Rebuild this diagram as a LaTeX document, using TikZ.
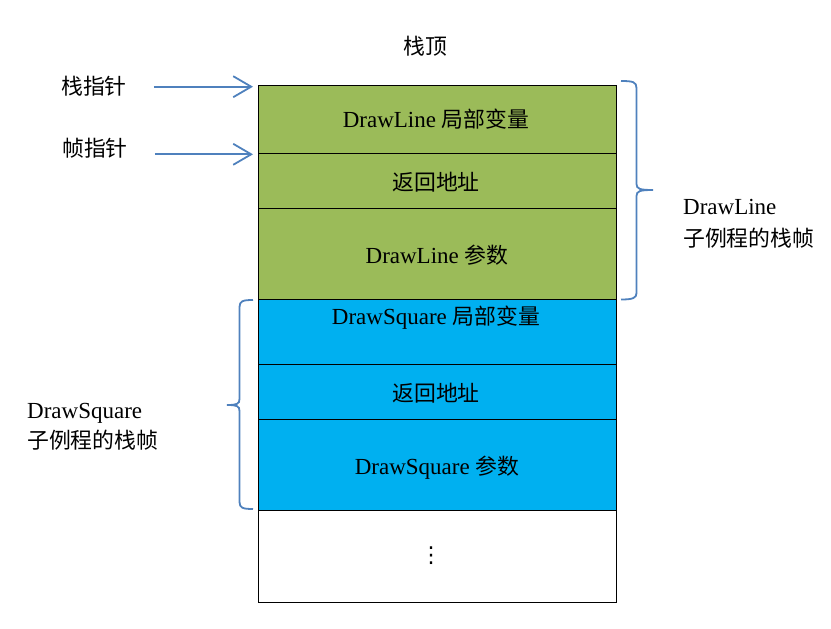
\documentclass[tikz,border=0pt]{standalone}
\usepackage{fontspec}
\setmainfont{Liberation Serif}
\newfontfamily\cjk[Scale=0.95]{Noto Sans CJK SC}
\newfontfamily\symfont{DejaVu Sans}
\usetikzlibrary{arrows.meta}
\definecolor{linegreen}{HTML}{9BBB59}
\definecolor{squareblue}{HTML}{00B0F0}
\definecolor{pointerblue}{HTML}{4F81BD}
\begin{document}
\begin{tikzpicture}[x=1pt,y=-1pt,
  txt/.style={font=\fontsize{23}{27}\selectfont,inner sep=0pt},
  ptr/.style={draw=pointerblue,line width=1.8pt,-{Straight Barb[length=18pt,width=21pt,line width=1.8pt]}},
  brc/.style={draw=pointerblue,line width=1.8pt}]
\useasboundingbox (0,0) rectangle (831,629) ;
% stack frames
\filldraw [fill=linegreen,draw=black,line width=1pt] (258,85) rectangle (616,299) ;
\filldraw [fill=squareblue,draw=black,line width=1pt] (258,299) rectangle (616,510) ;
\draw [line width=1pt] (258,510) rectangle (616,602) ;
\draw [line width=1pt] (258,153) -- (616,153) (258,208) -- (616,208) ;
\draw [line width=1pt] (258,364) -- (616,364) (258,419) -- (616,419) ;
% texts in the stack
\node [txt,anchor=base] (top) at (425,54) {\cjk 栈顶} ;
\node [txt,anchor=base] (dlvar) at (436,127) {DrawLine {\cjk 局部变量}} ;
\node [txt,anchor=base] (dlret) at (436,190) {\cjk 返回地址} ;
\node [txt,anchor=base] (dlarg) at (437,263) {DrawLine {\cjk 参数}} ;
\node [txt,anchor=base] (dsvar) at (436,324) {DrawSquare {\cjk 局部变量}} ;
\node [txt,anchor=base] (dsret) at (436,401) {\cjk 返回地址} ;
\node [txt,anchor=base] (dsarg) at (437,474) {DrawSquare {\cjk 参数}} ;
\node [inner sep=0pt,font=\symfont\fontsize{22}{24}\selectfont] (more) at (431,556) {⋮} ;
% pointers
\node [txt] (sptr) at (94,86) {\cjk 栈指针} ;
\node [txt] (fptr) at (95,148.5) {\cjk 帧指针} ;
\coordinate (spend) at (253,86.7) ;
\coordinate (fpend) at (253,154.3) ;
\draw [ptr] (sptr.east |- spend) ++(27,0) -- (spend) ;
\draw [ptr] (fptr.east |- fpend) ++(27,0) -- (fpend) ;
% braces
\draw [brc] (621,81) .. controls (633,81) and (636.5,82) .. (636.5,88) -- (636.5,184)
  .. controls (636.5,189) and (640,190) .. (653,190) .. controls (640,190) and (636.5,191) .. (636.5,196)
  -- (636.5,293) .. controls (636.5,298) and (633,299.5) .. (621,299.5) ;
\draw [brc] (253,300) .. controls (243,300) and (239.5,301) .. (239.5,307) -- (239.5,399)
  .. controls (239.5,404) and (237,405) .. (227,405) .. controls (237,405) and (239.5,406) .. (239.5,411)
  -- (239.5,502) .. controls (239.5,508) and (243,509) .. (253,509) ;
\node [txt,anchor=base west] (dlname) at (683,214) {DrawLine} ;
\node [txt,anchor=base west] (dlframe) at (683,246) {\cjk 子例程的栈帧} ;
\node [txt,anchor=base west] (dsname) at (27,418) {DrawSquare} ;
\node [txt,anchor=base west] (dsframe) at (27,448) {\cjk 子例程的栈帧} ;
\end{tikzpicture}
\end{document}
